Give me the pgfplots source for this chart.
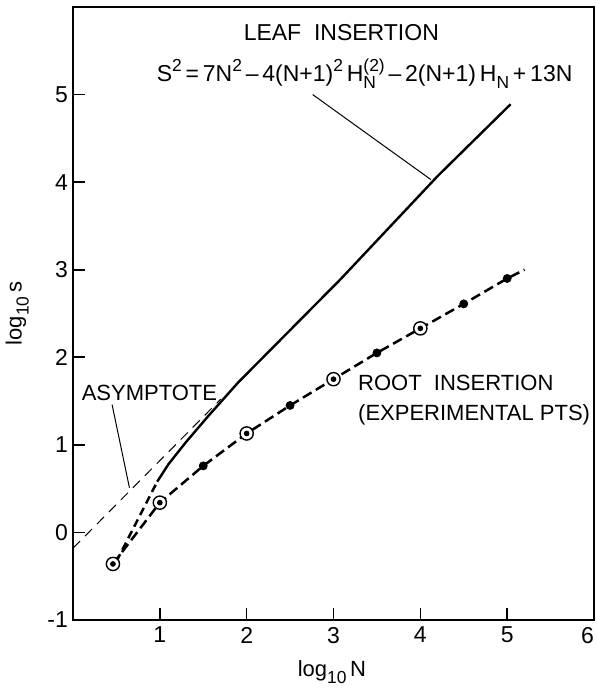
\documentclass[border=0pt]{standalone}
\usepackage{fontspec}
\setmainfont{Liberation Sans}
\usepackage{pgfplots}
\pgfplotsset{compat=1.18}
\usetikzlibrary{calc}

% raised and lowered script text, in the text font
\newcommand\sps[1]{\raisebox{0.85ex}{\fontsize{8.7}{9}\selectfont #1}}
\newcommand\sbs[1]{\raisebox{-0.6ex}{\fontsize{8.7}{9}\selectfont #1}}

\begin{document}
\begin{tikzpicture}
\begin{axis}[
  scale only axis, width=260.5pt, height=306.5pt,
  xmin=0, xmax=6, ymin=-1, ymax=6,
  axis line style={line width=0.9pt},
  tick align=inside, xtick pos=bottom, ytick pos=left,
  major tick length=6pt, tick style={line width=0.8pt, black},
  xtick={1,...,6}, xticklabels={1,2,3,4,5,\llap{6}},
  ytick={-1,...,5}, yticklabels={-1,0,1,2,3,4,5},
  ticklabel style={font=\fontsize{11.5}{13}\selectfont},
  yticklabel style={xshift=1pt},
  xlabel={log\sbs{10}\,N}, ylabel={log\sbs{10}\,s},
  label style={font=\fontsize{11}{13}\selectfont},
  xlabel style={at={(axis description cs:0.497,-0.085)}, anchor=center},
  ylabel style={at={(axis description cs:-0.107,0.5)}, anchor=center, rotate=0},
  clip=false,
]
% asymptote
\addplot[black, line width=0.5pt, dash pattern=on 5pt off 3.5pt] coordinates {(0,-0.18) (1.7,1.52)};
% leaf insertion: dashed start, then solid
\addplot[black, line width=1.25pt, dash pattern=on 4pt off 2.5pt] coordinates {(0.5,-0.33) (0.97,0.58)};
\addplot[black, line width=1.2pt] coordinates {
  (0.97,0.58) (1.1,0.78) (1.3,1.03) (1.55,1.32) (1.9,1.71) (2.5,2.31) (3.08,2.89) (4.2,4.07) (5.04,4.89)};
% root insertion (experimental points)
\addplot[black, line width=1.25pt, dash pattern=on 5pt off 2.5pt] coordinates {
  (0.46,-0.36) (1,0.34) (1.5,0.76) (2,1.13) (2.5,1.45) (3,1.75) (3.5,2.05) (4,2.33) (4.5,2.61) (5,2.90) (5.2,3.0)};
\addplot[only marks, mark=*, mark size=3.3pt, mark options={fill=white, draw=black, line width=0.7pt}] coordinates {
  (0.46,-0.36) (1,0.34) (2,1.13) (3,1.75) (4,2.33)};
\addplot[only marks, mark=*, mark size=1.2pt, black] coordinates {
  (0.46,-0.36) (1,0.34) (2,1.13) (3,1.75) (4,2.33)};
\addplot[only marks, mark=*, mark size=2pt, black] coordinates {
  (1.5,0.76) (2.5,1.45) (3.5,2.05) (4.5,2.61) (5,2.90)};
% leader lines
\addplot[black, line width=0.5pt] coordinates {(2.76,5.0) (4.12,4.03)};
\addplot[black, line width=0.5pt] coordinates {(0.45,1.46) (0.65,0.51)};
% labels
\node[font=\fontsize{11.5}{13}\selectfont] at (axis cs:3.09,5.71) {LEAF\ \ INSERTION};
\node[font=\fontsize{11.5}{13}\selectfont, anchor=base west, inner sep=0pt] at (axis cs:0.96,5.15)
  {S\sps{2}\,=\,7N\sps{2}\,--\,4(N+1)\sps{2}\,H\rlap{\sbs{N}}\sps{(2)}\,--\,2(N+1)\,H\sbs{N}\,+\,13N};
\node[font=\fontsize{11}{13}\selectfont] at (axis cs:0.88,1.59) {ASYMPTOTE};
\node[font=\fontsize{11}{13}\selectfont, anchor=base west, inner sep=0pt] at (axis cs:3.28,1.62) {ROOT\ \ INSERTION};
\node[font=\fontsize{11}{13}\selectfont, anchor=base west, inner sep=0pt] at (axis cs:3.28,1.28) {(EXPERIMENTAL PTS)};
\end{axis}
\pgfresetboundingbox
\path ($(current axis.south west)+(-36.5pt,-34.5pt)$) rectangle ($(current axis.north east)+(1.5pt,3.5pt)$);
\end{tikzpicture}
\end{document}
